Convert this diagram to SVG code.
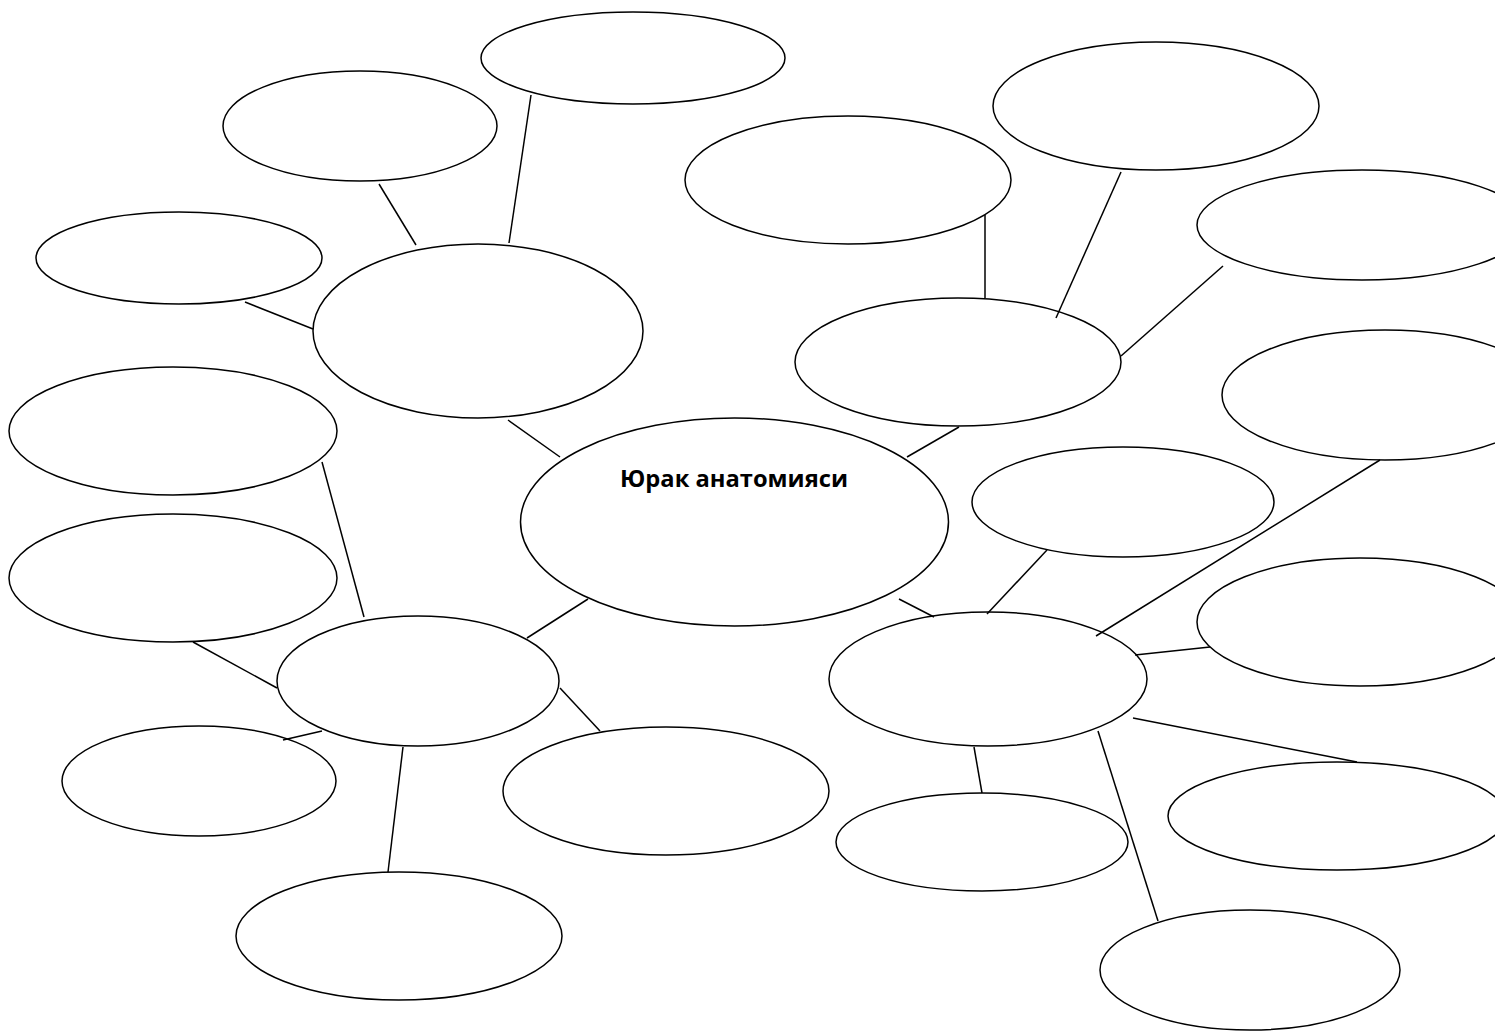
<svg xmlns="http://www.w3.org/2000/svg" width="1495" height="1035" viewBox="0 0 1495 1035">
<style>
.n{fill:#fff;stroke:#000;stroke-width:1.5}
.c line{stroke:#000;stroke-width:1.5}
.t{font-family:"Open Sans","Liberation Sans",sans-serif;font-weight:bold;font-size:24px;fill:#000}
</style>
<rect width="1495" height="1035" fill="#fff"/>
<g id="center"><ellipse class="n" cx="734.5" cy="522" rx="214" ry="104"/><text class="t" x="620" y="487" textLength="228" lengthAdjust="spacingAndGlyphs">Юрак анатомияси</text></g>
<g id="n1"><ellipse class="n" cx="478" cy="331" rx="165" ry="87"/></g>
<g id="n2"><ellipse class="n" cx="633" cy="58" rx="152" ry="46"/></g>
<g id="n3"><ellipse class="n" cx="360" cy="126" rx="137" ry="55"/></g>
<g id="n4"><ellipse class="n" cx="179" cy="258" rx="143" ry="46"/></g>
<g id="n5"><ellipse class="n" cx="958" cy="362" rx="163" ry="64"/></g>
<g id="n6"><ellipse class="n" cx="848" cy="180" rx="163" ry="64"/></g>
<g id="n7"><ellipse class="n" cx="1156" cy="106" rx="163" ry="64"/></g>
<g id="n8"><ellipse class="n" cx="1362" cy="225" rx="165" ry="55"/></g>
<g id="n9"><ellipse class="n" cx="418" cy="681" rx="141" ry="65"/></g>
<g id="n10"><ellipse class="n" cx="173" cy="431" rx="164" ry="64"/></g>
<g id="n11"><ellipse class="n" cx="173" cy="578" rx="164" ry="64"/></g>
<g id="n12"><ellipse class="n" cx="199" cy="781" rx="137" ry="55"/></g>
<g id="n13"><ellipse class="n" cx="399" cy="936" rx="163" ry="64"/></g>
<g id="n14"><ellipse class="n" cx="666" cy="791" rx="163" ry="64"/></g>
<g id="n15"><ellipse class="n" cx="988" cy="679" rx="159" ry="67"/></g>
<g id="n16"><ellipse class="n" cx="1123" cy="502" rx="151" ry="55"/></g>
<g id="n17"><ellipse class="n" cx="1385" cy="395" rx="163" ry="65"/></g>
<g id="n18"><ellipse class="n" cx="1360" cy="622" rx="163" ry="64"/></g>
<g id="n19"><ellipse class="n" cx="1337" cy="816" rx="169" ry="54"/></g>
<g id="n20"><ellipse class="n" cx="982" cy="842" rx="146" ry="49"/></g>
<g id="n21"><ellipse class="n" cx="1250" cy="970" rx="150" ry="60"/></g>
<g class="c" id="connectors">
<line x1="509" y1="243" x2="531" y2="95"/>
<line x1="416" y1="245" x2="379" y2="184"/>
<line x1="313" y1="329" x2="245" y2="302"/>
<line x1="508" y1="420" x2="560" y2="457"/>
<line x1="985" y1="298" x2="985" y2="215"/>
<line x1="1056" y1="318" x2="1121" y2="172"/>
<line x1="1121" y1="356" x2="1223" y2="266"/>
<line x1="907" y1="457" x2="959" y2="427"/>
<line x1="364" y1="617" x2="322" y2="462"/>
<line x1="277" y1="688" x2="193" y2="642"/>
<line x1="322" y1="731" x2="283" y2="740"/>
<line x1="403" y1="747" x2="388" y2="872"/>
<line x1="560" y1="688" x2="600" y2="731"/>
<line x1="527" y1="638" x2="588" y2="599"/>
<line x1="899" y1="599" x2="934" y2="617"/>
<line x1="987" y1="614" x2="1047" y2="550"/>
<line x1="1096" y1="636" x2="1380" y2="460"/>
<line x1="1135" y1="655" x2="1210" y2="647"/>
<line x1="1133" y1="718" x2="1357" y2="762"/>
<line x1="974" y1="747" x2="982" y2="793"/>
<line x1="1098" y1="731" x2="1158" y2="921"/>
</g>
</svg>
